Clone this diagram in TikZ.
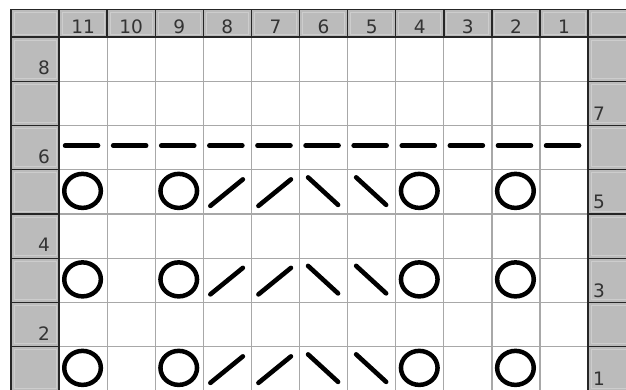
\documentclass[tikz,border=0pt]{standalone}
\usepackage{fontspec}
\setmainfont{DejaVu Sans}
\definecolor{hdr}{HTML}{BBBBBB}
\definecolor{hdrlight}{HTML}{CDCDCD}
\definecolor{gridc}{HTML}{A8A8A8}
\definecolor{numc}{HTML}{333333}
\begin{document}
\begin{tikzpicture}[x=1pt,y=-1pt,
  hdrcell/.style={fill=hdr, draw=black!85, line width=1.4pt},
  bevel/.style={draw=hdrlight, line width=1pt},
  lbl/.style={font=\fontsize{18.5}{18.5}\selectfont, text=numc, inner sep=0pt},
  yarnover/.style={draw=black, line width=4.5pt},
  stitch/.style={draw=black, line width=4.6pt, line cap=round}]
\useasboundingbox (0,0) rectangle (626,389);
\clip (0,0) rectangle (626,389);
\def\cw{48.1}
\def\rh{44.25}
% body
\fill[white] (59,37) rectangle (588.1,391);
\foreach \i in {1,...,10}
  \draw[gridc, line width=1.2pt] ({59+\i*\cw},37) -- ({59+\i*\cw},391);
\foreach \j in {1,...,7}
  \draw[gridc, line width=1.2pt] (59,{37+\j*\rh}) -- (588.1,{37+\j*\rh});
% header row
\draw[hdrcell] (11,9.5) rectangle (59,37);
\draw[bevel] (14,12.5) rectangle (56,34);
\draw[hdrcell] (588.1,9.5) rectangle (640,37);
\draw[bevel] (591.1,12.5) rectangle (637,34);
\foreach \i in {0,...,10}{
  \draw[hdrcell] ({59+\i*\cw},9.5) rectangle ({59+(\i+1)*\cw},37);
  \draw[bevel] ({62+\i*\cw},12.5) rectangle ({56+(\i+1)*\cw},34);
  \pgfmathtruncatemacro{\lab}{11-\i}
  \node[lbl, anchor=base] (h\lab) at ({59+(\i+0.5)*\cw},33) {\lab};
}
% side columns
\foreach \j in {0,...,7}{
  \draw[hdrcell] (11,{37+\j*\rh}) rectangle (59,{37+(\j+1)*\rh});
  \draw[bevel] (14,{40+\j*\rh}) rectangle (56,{34+(\j+1)*\rh});
  \draw[hdrcell] (588.1,{37+\j*\rh}) rectangle (640,{37+(\j+1)*\rh});
  \draw[bevel] (591.1,{40+\j*\rh}) rectangle (637,{34+(\j+1)*\rh});
}
\foreach \r/\j in {8/0,6/2,4/4,2/6}
  \node[lbl, anchor=base east] (l\r) at (50,{37+(\j+1)*\rh-6.5}) {\r};
\foreach \r/\j in {7/1,5/3,3/5,1/7}
  \node[lbl, anchor=base west] (r\r) at (593,{37+(\j+1)*\rh-5.5}) {\r};
% row 6: dashes
\foreach \i in {0,...,10}
  \draw[stitch] ({59+(\i+0.5)*\cw-18},{37+2.5*\rh-2}) -- ({59+(\i+0.5)*\cw+15},{37+2.5*\rh-2});
% rows 5, 3, 1
\foreach \j in {3,5,7}{
  \pgfmathsetmacro{\cy}{37+(\j+0.5)*\rh}
  % yarn overs in columns 11, 9, 4, 2 (index 0, 2, 7, 9)
  \foreach \i in {0,2,7,9}
    \draw[yarnover] ({59+(\i+0.5)*\cw-0.5},{\cy-1}) ellipse [x radius=18.3, y radius=17];
  % k2tog (/) in columns 8, 7 (index 3, 4)
  \foreach \i in {3,4}
    \draw[stitch] ({59+(\i+0.5)*\cw-17},{\cy+14}) -- ({59+(\i+0.5)*\cw+15.5},{\cy-12.5});
  % ssk (\) in columns 6, 5 (index 5, 6)
  \foreach \i in {5,6}
    \draw[stitch] ({59+(\i+0.5)*\cw-15.5},{\cy-14.5}) -- ({59+(\i+0.5)*\cw+14.5},{\cy+13});
}
\end{tikzpicture}
\end{document}
